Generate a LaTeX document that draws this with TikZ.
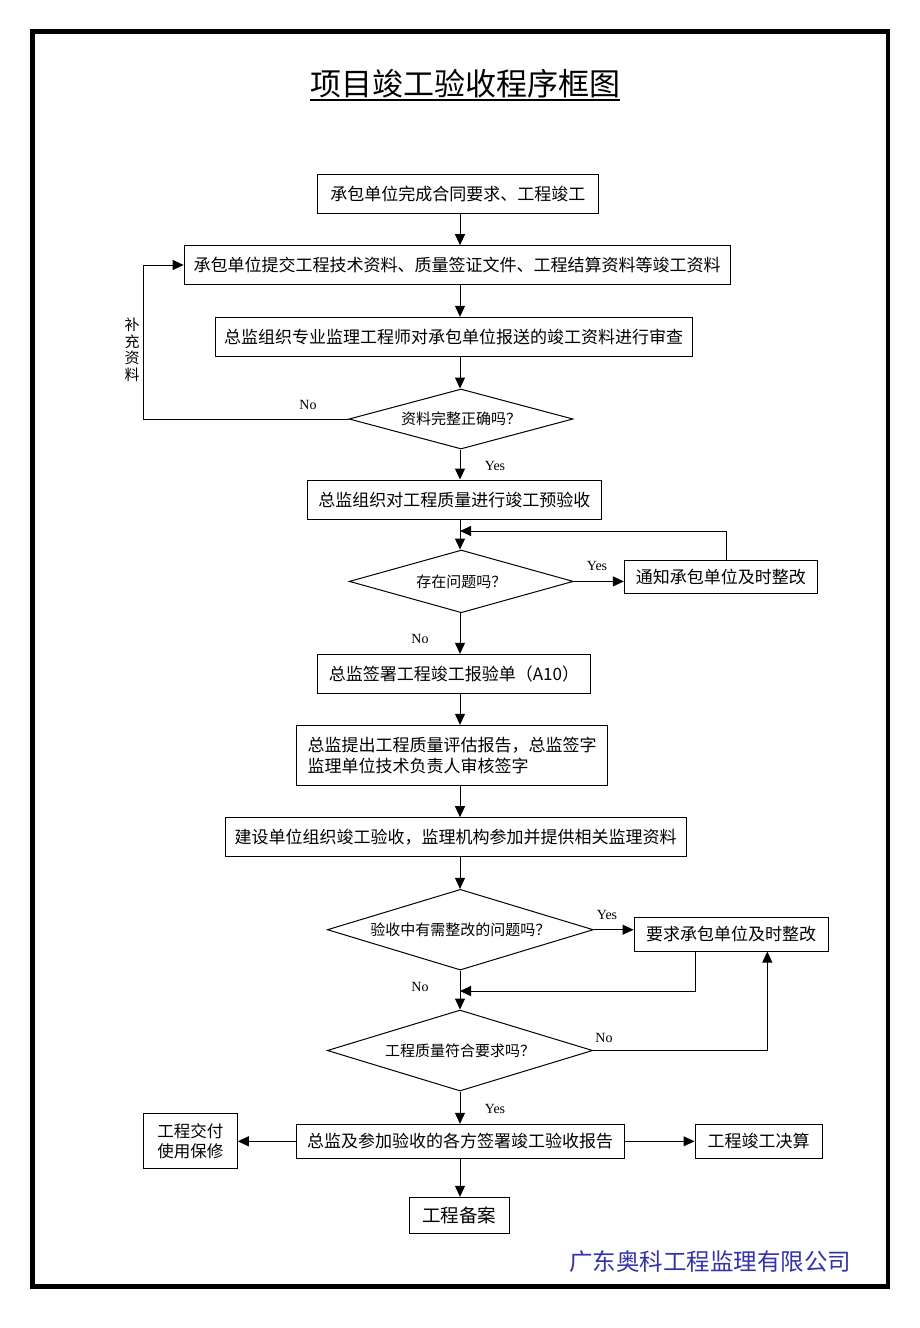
\documentclass[tikz,border=0pt]{standalone}
\usepackage{fontspec}
\newfontfamily\cjk{Noto Sans CJK SC}
\newfontfamily\lat{Liberation Serif}
\usetikzlibrary{arrows.meta,shapes.geometric}
\definecolor{coblue}{RGB}{50,50,170}
\begin{document}
\begin{tikzpicture}[x=1pt,y=-1pt,
  box/.style={draw, line width=1pt, inner sep=0pt, align=center, font=\cjk\fontsize{17}{21}\selectfont},
  dia/.style={draw, diamond, line width=1pt, inner sep=0pt, font=\cjk\fontsize{15}{17}\selectfont},
  arr/.style={line width=1pt, -{Triangle[length=11pt,width=10pt]}},
  ln/.style={line width=1pt},
  lab/.style={font=\lat\fontsize{14}{15}\selectfont, inner sep=0pt}]
\useasboundingbox (0,0) rectangle (920,1328);
\fill[white] (0,0) rectangle (920,1328);
% frame
\draw[line width=4.5pt] (32.5,31.5) rectangle (888,1286.5);
% title
\node[anchor=base, inner sep=0pt, font=\cjk\fontsize{31}{34}\selectfont] (title) at (465,95) {项目竣工验收程序框图};
\draw[line width=1.4pt] ([yshift=-5pt]title.base west) -- ([yshift=-5pt]title.base east);

\coordinate (spine) at (460,0);

\node[box, minimum width=280.5pt, minimum height=39pt] (b1) at (457.8,193.8) {承包单位完成合同要求、工程竣工};
\node[box, minimum width=546pt, minimum height=38.6pt] (b2) at (457.2,265) {承包单位提交工程技术资料、质量签证文件、工程结算资料等竣工资料};
\node[box, minimum width=477pt, minimum height=39.4pt] (b3) at (453.7,337) {总监组织专业监理工程师对承包单位报送的竣工资料进行审查};
\node[dia, aspect=3.73, minimum width=224pt, minimum height=60pt] (d1) at (461,419) {资料完整正确吗？};
\node[box, minimum width=294.7pt, minimum height=39pt] (b5) at (454.4,499.5) {总监组织对工程质量进行竣工预验收};
\node[dia, aspect=3.57, minimum width=224pt, minimum height=62.7pt] (d2) at (461.3,581.4) {存在问题吗？};
\node[box, minimum width=193pt, minimum height=33.3pt] (b7) at (720.8,577.3) {通知承包单位及时整改};
\node[box, minimum width=273.4pt, minimum height=39pt] (b8) at (454,673.8) {总监签署工程竣工报验单（A10）};
\node[box, align=left, minimum width=310.6pt, minimum height=59.7pt] (b9) at (452,755.2) {总监提出工程质量评估报告，总监签字\\监理单位技术负责人审核签字};
\node[box, minimum width=461pt, minimum height=39pt] (b10) at (455.5,837.2) {建设单位组织竣工验收，监理机构参加并提供相关监理资料};
\node[dia, aspect=3.3, minimum width=266pt, minimum height=80.7pt] (d3) at (460.3,929.7) {验收中有需整改的问题吗？};
\node[box, minimum width=194.3pt, minimum height=33.7pt] (b12) at (731.2,934.2) {要求承包单位及时整改};
\node[dia, aspect=3.28, minimum width=265.4pt, minimum height=81pt] (d4) at (460,1050.5) {工程质量符合要求吗？};
\node[box, minimum width=328pt, minimum height=34pt] (b14) at (460,1141.3) {总监及参加验收的各方签署竣工验收报告};
\node[box, minimum width=94pt, minimum height=55pt, font=\cjk\fontsize{16.5}{20}\selectfont] (b15) at (190.3,1140.8) {工程交付\\使用保修};
\node[box, minimum width=127pt, minimum height=34pt] (b16) at (758.5,1141) {工程竣工决算};
\node[box, minimum width=100pt, minimum height=36pt, font=\cjk\fontsize{18.5}{22}\selectfont] (b17) at (459.3,1215.3) {工程备案};

% main spine
\draw[arr] (b1.south -| spine) -- (b2.north -| spine);
\draw[arr] (b2.south -| spine) -- (b3.north -| spine);
\draw[arr] (b3.south -| spine) -- (d1.north -| spine);
\draw[arr] (d1.south -| spine) -- (b5.north -| spine);
\draw[arr] (b5.south -| spine) -- (d2.north -| spine);
\draw[arr] (d2.south -| spine) -- (b8.north -| spine);
\draw[arr] (b8.south -| spine) -- (b9.north -| spine);
\draw[arr] (b9.south -| spine) -- (b10.north -| spine);
\draw[arr] (b10.south -| spine) -- (d3.north -| spine);
\draw[arr] (d3.south -| spine) -- (d4.north -| spine);
\draw[arr] (d4.south -| spine) -- (b14.north -| spine);
\draw[arr] (b14.south -| spine) -- (b17.north -| spine);

% loop back to b2
\coordinate (lb) at (143.3,419);
\draw[arr] (d1.west) -- (lb) |- (b2.west);
% d2 -> b7 and back
\draw[arr] (d2.east) -- (d2.east -| b7.west);
\coordinate (c1) at (726,531);
\draw[arr] (b7.north -| c1) -- (c1) -- (c1 -| spine);
% d3 -> b12 and back
\draw[arr] (d3.east) -- (d3.east -| b12.west);
\coordinate (c2) at (695.3,991);
\draw[arr] (b12.south -| c2) -- (c2) -- (c2 -| spine);
\coordinate (c3) at (767.3,1050.5);
\draw[arr] (d4.east) -- (c3) -- (b12.south -| c3);
% b14 sides
\draw[arr] (b14.west) -- (b14.west -| b15.east);
\draw[arr] (b14.east) -- (b14.east -| b16.west);

% labels
\node[lab] (l1) at (308,405) {No};
\node[lab] (l2) at (495,466) {Yes};
\node[lab] (l3) at (597,566) {Yes};
\node[lab] (l4) at (420,639) {No};
\node[lab] (l5) at (607,915) {Yes};
\node[lab] (l6) at (420,987) {No};
\node[lab] (l7) at (604,1038) {No};
\node[lab] (l8) at (495,1109) {Yes};
\node[inner sep=0pt, align=center, font=\cjk\fontsize{15}{16.5}\selectfont] (sup) at (132,350) {补\\充\\资\\料};

% company
\node[inner sep=0pt, text=coblue, font=\cjk\fontsize{23.5}{26}\selectfont] (co) at (710,1262) {广东奥科工程监理有限公司};
\end{tikzpicture}
\end{document}
